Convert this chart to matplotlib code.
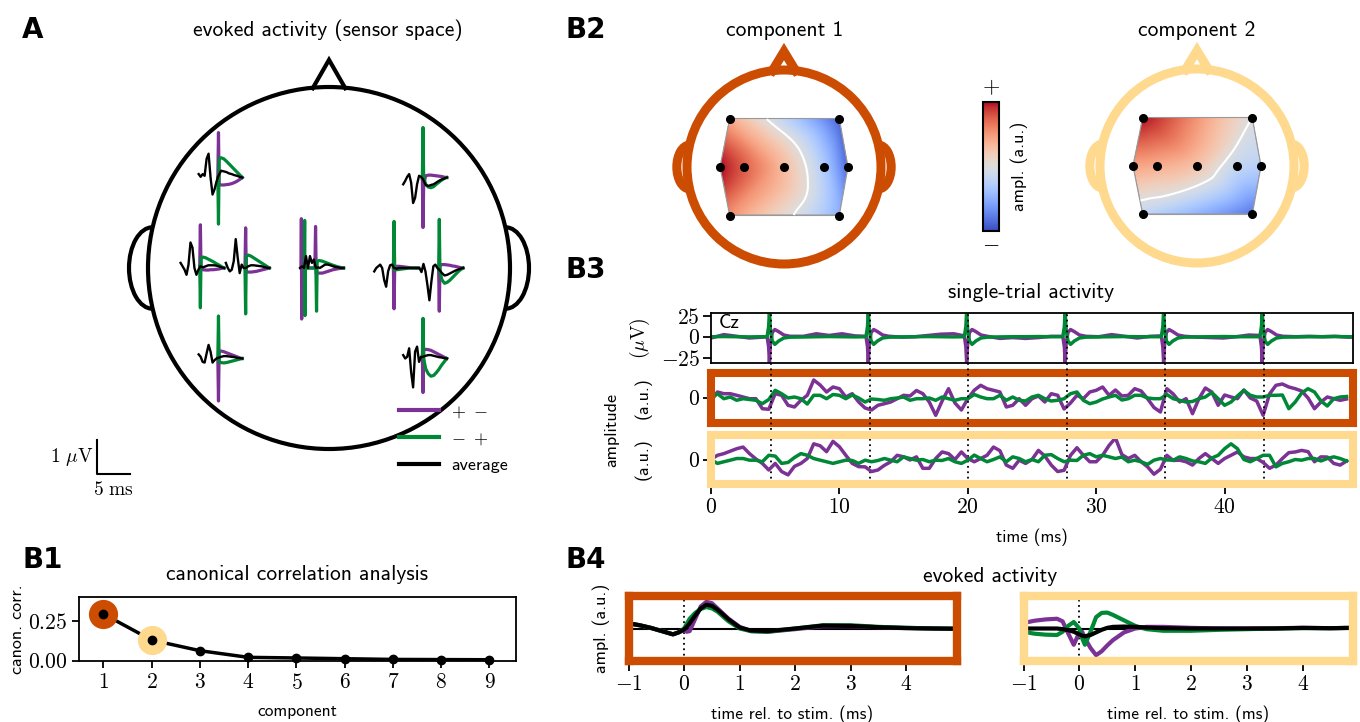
import numpy as np
import matplotlib
matplotlib.use("Agg")
import matplotlib.pyplot as plt
import matplotlib.tri as mtri
from matplotlib.patches import Circle, Arc, Polygon
from matplotlib.lines import Line2D
from matplotlib.cm import ScalarMappable
from matplotlib.colors import Normalize
from matplotlib import transforms

plt.rcParams["font.family"] = ["cmss10", "DejaVu Sans"]
plt.rcParams["mathtext.fontset"] = "cm"
plt.rcParams["axes.unicode_minus"] = False
plt.rcParams["axes.linewidth"] = 1.3

PURPLE = "#7b3294"
GREEN = "#008837"
ORANGE = "#cc4c02"
YELLOW = "#fed98e"
TITLE_FS = 15.5
TICK_FS = 15.5
LABEL_FS = 13

# sensor layout (head radius = 1)
SENSORS = ["TL", "TR", "ML2", "ML1", "Cz", "MR1", "MR2", "BL", "BR"]
SENSOR_X = [-0.56, 0.57, -0.66, -0.41, 0.0, 0.41, 0.66, -0.56, 0.57]
SENSOR_Y = [0.50, 0.50, 0.0, 0.0, 0.0, 0.0, 0.0, -0.50, -0.50]

# A: evoked activity per sensor (uV), average
T_AVG = [-3.0, -2.7, -2.4, -2.1, -1.8, -1.5, -1.2, -0.9, -0.6, -0.3,
         0.0, 0.4, 0.8, 1.2, 1.6, 2.0, 2.4, 2.8, 3.2, 3.6]
AVG = [
    [0.1, 0.02, 0.1, 0.05, 0.55, 0.7, 0.0, -0.5, -0.35, -0.12, 0.05, 0.2, 0.18, 0.16, 0.12, 0.1, 0.07, 0.05, 0.02, 0.0],
    [-0.2, -0.1, 0.02, 0.1, -0.15, -0.75, -0.6, -0.2, 0.05, 0.02, -0.05, -0.22, -0.25, -0.22, -0.2, -0.15, -0.1, -0.06, -0.03, 0.0],
    [0.15, 0.05, -0.05, -0.2, 0.1, 0.75, 0.6, 0.0, -0.2, -0.05, 0.05, 0.02, 0.05, 0.08, 0.08, 0.08, 0.07, 0.05, 0.02, 0.0],
    [0.15, 0.0, -0.1, -0.05, 0.2, 0.85, 0.3, -0.15, 0.1, 0.0, 0.0, 0.05, 0.08, 0.08, 0.07, 0.06, 0.05, 0.03, 0.01, 0.0],
    [0.0, 0.05, 0.0, 0.35, 0.0, 0.35, 0.15, 0.25, 0.0, 0.02, 0.0, 0.05, 0.1, 0.1, 0.08, 0.05, 0.03, 0.02, 0.0, 0.0],
    [-0.1, 0.0, 0.05, 0.1, 0.0, -0.35, -0.55, -0.1, 0.08, 0.1, 0.0, -0.02, 0.0, 0.0, 0.0, 0.0, 0.0, 0.0, 0.0, 0.0],
    [0.0, -0.12, 0.12, -0.1, -0.5, -0.95, -0.4, 0.05, 0.1, 0.0, -0.05, -0.15, -0.22, -0.2, -0.16, -0.12, -0.08, -0.05, -0.02, 0.0],
    [0.12, 0.05, -0.1, -0.12, 0.15, 0.4, 0.2, -0.12, -0.05, 0.0, 0.02, 0.05, 0.07, 0.07, 0.06, 0.05, 0.04, 0.02, 0.01, 0.0],
    [0.1, 0.0, 0.05, 0.3, -0.4, -0.85, 0.2, 0.35, -0.1, 0.05, 0.05, 0.08, 0.1, 0.1, 0.08, 0.06, 0.04, 0.03, 0.01, 0.0],
]
# A: "+ -" and "- +" trials around the stimulus
T_STIM = [-0.1, 0.0, 0.1, 0.4, 0.8, 1.2, 1.6, 2.0, 2.4, 2.8, 3.2, 3.6]
CZ_T_PM = [-2.85, -2.8, -2.75, -2.7, -0.75, -0.65, -0.55, -0.2, 0.4, 1.2, 2.0, 2.8, 3.6]
CZ_T_MP = [-2.35, -2.3, -2.25, -2.2, -0.6, -0.5, -0.4, -0.1, 0.4, 1.2, 2.0, 2.8, 3.6]
PLUS_MINUS = [
    [0.0, 1.32, -0.2, -0.22, -0.22, -0.21, -0.2, -0.18, -0.15, -0.11, -0.06, 0.0],
    [-0.03, -1.47, -0.2, 0.05, 0.07, 0.07, 0.06, 0.05, 0.04, 0.03, 0.01, 0.0],
    [0.05, 1.27, -0.05, -0.05, -0.06, -0.06, -0.05, -0.05, -0.04, -0.03, -0.01, 0.0],
    [0.0, 1.18, -0.12, -0.12, -0.12, -0.11, -0.1, -0.08, -0.06, -0.04, -0.02, 0.0],
    [0.0, 1.45, -1.5, 0.0, 0.0, 1.22, -0.15, -0.15, -0.15, -0.1, -0.05, -0.02, 0.0],
    [0.0, -1.2, 0.0, 0.05, 0.05, 0.04, 0.03, 0.02, 0.01, 0.0, 0.0, 0.0],
    [-0.05, -1.27, 0.1, 0.1, 0.1, 0.09, 0.08, 0.06, 0.05, 0.03, 0.01, 0.0],
    [0.02, -1.25, 0.2, 0.22, 0.2, 0.17, 0.14, 0.11, 0.08, 0.05, 0.02, 0.0],
    [0.05, -1.0, 0.25, 0.27, 0.26, 0.24, 0.2, 0.16, 0.12, 0.08, 0.04, 0.0],
]
MINUS_PLUS = [
    [0.0, -1.37, 0.55, 0.58, 0.55, 0.48, 0.4, 0.32, 0.24, 0.16, 0.08, 0.0],
    [-0.03, 1.47, 0.0, -0.2, -0.28, -0.3, -0.27, -0.2, -0.14, -0.08, -0.03, 0.0],
    [0.05, -1.17, 0.3, 0.32, 0.3, 0.26, 0.22, 0.18, 0.13, 0.09, 0.04, 0.0],
    [0.0, -1.35, 0.35, 0.38, 0.35, 0.3, 0.25, 0.2, 0.15, 0.1, 0.05, 0.0],
    [0.0, 1.4, -1.4, 0.0, 0.0, -1.27, 0.2, 0.22, 0.2, 0.14, 0.08, 0.03, 0.0],
    [0.0, 1.37, -0.05, -0.05, -0.04, -0.03, -0.02, -0.01, 0.0, 0.0, 0.0, 0.0],
    [-0.05, 1.43, -0.1, -0.35, -0.45, -0.42, -0.36, -0.28, -0.2, -0.12, -0.05, 0.0],
    [0.02, 1.25, -0.1, -0.12, -0.13, -0.12, -0.1, -0.08, -0.06, -0.04, -0.02, 0.0],
    [0.05, 1.18, 0.0, -0.3, -0.45, -0.52, -0.5, -0.42, -0.32, -0.2, -0.1, 0.0],
]

# B1: canonical correlations
COMPONENTS = [1, 2, 3, 4, 5, 6, 7, 8, 9]
CANON_CORR = [0.292, 0.129, 0.0625, 0.021, 0.017, 0.0125, 0.008, 0.007, 0.006]

# B2: spatial patterns at the sensors
TOPO_1 = [0.4, -0.9, 1.0, 0.75, 0.3, -0.3, -0.85, 0.55, -0.5]
TOPO_2 = [1.0, 0.0, 0.45, 0.4, 0.25, -0.15, -0.25, -0.2, -0.8]

# B3: single-trial activity
STIM_TIMES = [4.67, 12.35, 20.02, 27.69, 35.36, 43.04]
CZ_T = [0.0, 1.0, 2.0, 3.0, 4.0,
        4.37, 4.49, 4.55, 4.63, 4.77, 4.97, 5.27, 5.67, 6.17,
        7.2, 8.2, 9.2, 10.2, 11.2,
        12.07, 12.19, 12.25, 12.33, 12.47, 12.67, 12.97, 13.37, 13.87,
        14.9, 15.9, 16.9, 17.9, 18.9,
        19.73, 19.85, 19.91, 19.99, 20.13, 20.33, 20.63, 21.03, 21.53,
        22.5, 23.5, 24.5, 25.5, 26.5,
        27.4, 27.52, 27.58, 27.66, 27.8, 28.0, 28.3, 28.7, 29.2,
        30.2, 31.2, 32.2, 33.2, 34.2,
        35.07, 35.19, 35.25, 35.33, 35.47, 35.67, 35.97, 36.37, 36.87,
        37.9, 38.9, 39.9, 40.9, 41.9,
        42.75, 42.87, 42.93, 43.01, 43.15, 43.35, 43.65, 44.05, 44.55,
        45.6, 46.6, 47.6, 48.6, 49.6, 50.0]
CZ_PM = [-1.5, 2.5, 0.5, -1.5, -0.5,
         0.0, -12, -30, -8, 5, 8.5, 6, 2, 0.5,
         0.5, 3.5, 1.5, 3.5, 1.0,
         0.5, -12, -30, -8, 5, 8.5, 6, 2, 0.5,
         -0.5, 0.0, 1.5, 3.0, 3.5,
         1.0, -12, -30, -8, 5, 8.5, 6, 2, 0.5,
         -2.0, -1.0, -2.0, -1.0, 0.5,
         0.5, -12, -30, -8, 5, 8.5, 6, 2, 0.5,
         0.0, 2.5, 0.5, -1.5, 0.5,
         1.0, -12, -30, -8, 5, 8.5, 6, 2, 0.5,
         -0.5, -1.0, -1.5, 0.0, 2.0,
         1.5, -12, -30, -8, 5, 8.5, 6, 2, 0.5,
         0.0, 0.5, 0.0, 0.5, -0.5, -0.5]
CZ_MP = [0.0, 0.2, 0.0, -0.2, 0.0,
         0.0, 12, 30, 8, -5, -9, -5, -1.5, -0.5,
         -0.3, 0.0, 0.2, 0.0, -0.2,
         0.0, 12, 30, 8, -5, -9, -5, -1.5, -0.5,
         -0.2, 0.0, 0.2, 0.0, -0.2,
         0.0, 12, 30, 8, -5, -9, -5, -1.5, -0.5,
         -0.2, 0.0, 0.0, 0.2, 0.0,
         0.0, 12, 30, 8, -5, -9, -5, -1.5, -0.5,
         -0.2, 0.0, 0.2, 0.0, 0.0,
         0.0, 12, 30, 8, -5, -9, -5, -1.5, -0.5,
         -0.2, 0.0, 0.2, 0.0, 0.0,
         0.0, 12, 30, 8, -5, -9, -5, -1.5, -0.5,
         -0.2, 0.0, 0.0, 0.2, 0.0, 0.0]
T_TRIAL = np.arange(0, 50, 0.5)
COMP1_PM = [-0.3, 0.6, 0.43, 0.43, 0.27, 0.1, -0.07, -0.07, -1.07, -1.13,
            0.43, 0.27, -0.73, -0.9, -0.23, 0.27, 1.8, 1.3, 0.6, 1.1,
            0.93, 0.1, 0.43, -0.4, -1.0, -1.2, -0.73, -0.57, -0.4, -0.07,
            0.27, 0.2, 0.75, 0.43, -0.4, -1.73, -0.3, 0.93, -0.5, -1.2,
            -0.07, 0.77, 1.27, 0.93, 0.77, 0.6, -0.9, -0.73, -0.07, -0.73,
            -0.07, 0.2, -0.4, 0.43, 0.27, -1.1, -0.5, 0.27, -0.07, 0.6,
            0.77, 1.1, 0.27, 0.8, 0.2, 0.27, 0.93, 0.7, -0.07, -0.95,
            -1.4, 0.93, 0.4, -0.4, -0.07, -1.57, -0.07, 1.0, 0.6, -0.73,
            0.3, 0.1, -0.07, 0.8, 0.0, -0.3, -1.73, 0.4, 1.27, 1.4,
            1.1, 0.93, 0.7, 0.0, -1.07, -0.4, 0.1, -0.07, -0.23, -0.1]
COMP1_MP = [0.0, 0.43, -0.07, 0.1, -0.23, -0.07, -0.15, -0.23, -0.57, -0.15,
            0.77, 0.43, 0.0, 0.1, -0.07, -0.6, 0.27, 0.27, -0.07, 0.35,
            0.27, -0.07, 0.3, 0.0, -0.4, -0.1, -0.15, -0.23, -0.07, 0.0,
            0.1, -0.23, -0.07, -0.07, 0.0, -0.23, 0.1, -0.07, -0.23, -0.07,
            -0.07, 0.35, 0.1, -0.07, -0.07, 0.27, -0.23, 0.1, -0.23, -0.3,
            0.1, 0.27, -0.07, -0.3, -0.23, -0.07, 0.43, 0.6, -0.23, -0.57,
            -0.4, -0.1, 0.1, 0.27, -0.2, -0.07, 0.27, 0.27, 0.0, -0.07,
            -0.07, 0.35, -0.07, -0.23, -0.4, -0.35, -0.07, 0.1, 0.55, -0.07,
            -0.73, -0.4, 0.2, 0.77, 0.27, 0.1, 0.1, 0.27, 0.27, 0.3,
            -1.07, -0.4, 0.5, 0.93, 0.6, -0.3, -0.8, -0.07, 0.1, 0.15]
COMP2_PM = [0.0, 0.43, 0.6, 0.85, 1.1, 1.27, 0.6, 0.05, -0.4, -1.07,
            -0.4, -1.23, -1.57, -0.7, -0.4, 0.1, 1.6, 1.4, 0.8, 1.85,
            1.3, 0.43, -0.4, -0.73, -0.75, -1.23, -1.07, -0.6, -0.23, 0.43,
            0.27, -0.05, 0.27, -0.9, -0.9, 0.1, 0.77, 0.6, 0.0, 0.77,
            0.1, -0.23, 0.1, 0.43, 1.27, 0.9, -0.57, -0.9, -0.07, -0.4,
            0.0, 0.93, 0.35, -0.57, -1.23, -1.1, 0.43, 1.2, 0.43, -0.23,
            -0.23, 0.43, 1.43, 2.2, 0.5, 0.1, 0.43, -0.23, -0.75, -1.5,
            -1.0, 0.43, -0.1, -0.07, -0.23, -0.57, 0.1, 0.6, 0.1, -0.4,
            0.1, 0.43, 0.77, 0.27, 0.1, 0.1, -0.3, -0.9, -0.57, 0.1,
            0.7, 0.77, 0.93, 0.8, -0.23, 0.27, 0.25, -0.4, -0.57, -0.15]
COMP2_MP = [0.0, -0.4, -0.23, -0.07, 0.1, 0.1, -0.07, -0.07, -0.23, 0.43,
            0.35, -0.4, -0.3, 0.2, 0.6, 0.43, 0.1, -0.07, -0.23, -0.4,
            -0.23, -0.07, -0.1, -0.4, -0.07, -0.23, -0.1, 0.1, -0.07, -0.23,
            0.27, 0.1, -0.07, 0.0, -0.23, -0.07, -0.1, 0.1, -0.23, -0.4,
            -0.07, 0.45, 0.1, -0.23, 0.0, 0.27, -0.23, 0.27, 0.1, -0.23,
            0.0, -0.23, 0.43, 0.5, 0.1, -0.23, -0.07, -0.1, 0.43, 0.6,
            0.27, 0.43, 0.27, 0.1, 0.25, -0.23, -0.07, -0.23, -0.5, -0.07,
            0.1, -0.05, -0.07, 0.27, 0.1, -0.15, -0.23, -0.4, 0.15, 0.43,
            1.1, 1.6, 1.1, 0.0, -0.23, 0.1, 0.43, 0.43, -0.75, -0.4,
            -0.23, 0.0, -0.07, 0.1, 0.1, -0.15, 0.1, 0.27, 0.1, -0.15]

# B4: evoked component activity
T_EVOKED = [-1.0, -0.8, -0.6, -0.4, -0.3, -0.2, -0.1, 0.0, 0.05, 0.1, 0.2, 0.3, 0.4,
            0.5, 0.6, 0.8, 1.0, 1.2, 1.5, 2.0, 2.5, 3.0, 3.5, 4.0, 4.5, 4.9]
EVK1_AVG = [0.16, 0.1, 0.02, -0.08, -0.13, -0.18, -0.12, -0.03, 0.05, 0.16, 0.4, 0.62, 0.73,
            0.7, 0.58, 0.28, 0.03, -0.06, -0.08, 0.0, 0.09, 0.08, 0.04, 0.01, 0.0, -0.01]
EVK1_PM = [0.16, 0.1, 0.02, -0.08, -0.13, -0.18, -0.12, -0.05, -0.1, -0.08, 0.3, 0.68, 0.82,
           0.78, 0.62, 0.3, 0.05, -0.08, -0.1, -0.02, 0.07, 0.07, 0.04, 0.02, 0.0, -0.01]
EVK1_MP = [0.16, 0.1, 0.02, -0.08, -0.13, -0.18, -0.12, 0.0, 0.15, 0.3, 0.48, 0.6, 0.66,
           0.62, 0.52, 0.22, 0.0, -0.08, -0.1, 0.0, 0.1, 0.1, 0.05, 0.02, 0.0, 0.0]
EVK2_AVG = [0.0, 0.0, 0.0, 0.0, -0.02, -0.05, -0.1, -0.18, -0.22, -0.24, -0.2, -0.12, -0.04,
            0.02, 0.05, 0.06, 0.05, 0.03, 0.01, 0.0, 0.0, 0.0, 0.0, 0.02, 0.01, 0.02]
EVK2_PM = [0.17, 0.24, 0.28, 0.3, 0.22, -0.15, -0.5, -0.12, -0.1, -0.3, -0.6, -0.82, -0.7,
           -0.52, -0.36, -0.12, 0.0, 0.05, 0.05, 0.02, 0.0, 0.0, 0.01, 0.02, 0.01, 0.02]
EVK2_MP = [-0.1, -0.16, -0.19, -0.2, -0.1, 0.08, 0.2, 0.0, -0.3, -0.5, -0.1, 0.35, 0.48,
           0.49, 0.42, 0.25, 0.08, -0.02, -0.07, -0.07, -0.04, -0.02, 0.0, 0.01, 0.01, 0.02]

W, H = 1360, 722
fig = plt.figure(figsize=(W / 100, H / 100), dpi=100)


def px_axes(x0, y0, x1, y1):
    return fig.add_axes([x0 / W, 1 - y1 / H, (x1 - x0) / W, (y1 - y0) / H])


def ftext(x, y, s, **kw):
    fig.text(x / W, 1 - y / H, s, **kw)


def math_labels(vals):
    return [r"$%s$" % (("-%g" % -v) if v < 0 else ("%g" % v)) for v in vals]


def draw_head(ax, color, lw, nose_w=0.1, nose_h=1.14):
    ax.add_patch(Circle((0, 0), 1.0, fill=False, ec=color, lw=lw))
    ax.plot([-nose_w, 0.0, nose_w], [0.993, nose_h, 0.993], color=color, lw=lw,
            solid_joinstyle="miter")
    ax.add_patch(Arc((-0.975, 0), 0.26, 0.45, theta1=90, theta2=270, ec=color, lw=lw))
    ax.add_patch(Arc((0.975, 0), 0.26, 0.45, theta1=-90, theta2=90, ec=color, lw=lw))
    ax.set_xlim(-1.3, 1.3)
    ax.set_ylim(-1.3, 1.3)
    ax.axis("off")


def head_axes(cx, cy, r):
    return px_axes(cx - 1.3 * r, cy - 1.3 * r, cx + 1.3 * r, cy + 1.3 * r)


# ---------- A ----------
rA = 181
axA = head_axes(329, 268, rA)
draw_head(axA, "black", 3.0, nose_w=0.09, nose_h=1.15)
ms_u = 6.6 / rA
uv_u = 34 / rA
pm_times = [CZ_T_PM if s == "Cz" else T_STIM for s in SENSORS]
mp_times = [CZ_T_MP if s == "Cz" else T_STIM for s in SENSORS]
for i, s in enumerate(SENSORS):
    ins = axA.inset_axes([SENSOR_X[i] - 0.16, SENSOR_Y[i] - 1.6 * uv_u, 6.6 * ms_u, 3.2 * uv_u],
                         transform=axA.transData)
    ins.set_xlim(-3.0, 3.6)
    ins.set_ylim(-1.6, 1.6)
    ins.axis("off")
    ins.plot(pm_times[i], PLUS_MINUS[i], color=PURPLE, lw=2.3, clip_on=False)
    ins.plot(mp_times[i], MINUS_PLUS[i], color=GREEN, lw=2.3, clip_on=False)
    ins.plot(T_AVG, AVG[i], color="k", lw=1.7, clip_on=False)

sb = axA.inset_axes([(97 - 329) / rA, (268 - 474) / rA, 6.6 * ms_u, 3.2 * uv_u],
                    transform=axA.transData)
sb.set_xlim(0, 6.6)
sb.set_ylim(0, 3.2)
sb.axis("off")
sb.plot([0, 0, 5], [1, 0, 0], color="k", lw=1.5, clip_on=False)
sb.text(-0.6, 0.5, r"$1\ \mu\mathrm{V}$", ha="right", va="center", fontsize=14)
sb.text(2.5, -0.2, r"$5\ \mathrm{ms}$", ha="center", va="top", fontsize=14)

handles = [Line2D([], [], color=PURPLE, lw=3), Line2D([], [], color=GREEN, lw=3),
           Line2D([], [], color="k", lw=3)]
fig.legend(handles, [r"$+\ -$", r"$-\ +$", "average"], loc="upper left",
           bbox_to_anchor=(399 / W, 1 - 404 / H), frameon=False, fontsize=13,
           handlelength=2.2, handletextpad=0.7, labelspacing=0.6,
           borderpad=0, borderaxespad=0)

ftext(328, 30, "evoked activity (sensor space)", ha="center", va="center", fontsize=TITLE_FS)


# ---------- B2 ----------
def topomap(ax, values, color):
    tri = mtri.Triangulation(SENSOR_X, SENSOR_Y)
    interp = mtri.CubicTriInterpolator(tri, values, kind="geom")
    gx, gy = np.meshgrid(np.linspace(-0.7, 0.7, 240), np.linspace(-0.55, 0.55, 200))
    gz = interp(gx, gy)
    vmax = np.max(np.abs(values))
    ax.imshow(gz, extent=(-0.7, 0.7, -0.55, 0.55), origin="lower", cmap="coolwarm",
              vmin=-vmax, vmax=vmax, interpolation="bilinear")
    ax.contour(gx, gy, gz, levels=[0], colors="white", linewidths=1.5)
    hull = [0, 1, 6, 8, 7, 2]
    ax.add_patch(Polygon([(SENSOR_X[j], SENSOR_Y[j]) for j in hull], closed=True,
                         fill=False, ec="0.6", lw=0.8))
    ax.plot(SENSOR_X, SENSOR_Y, "o", color="k", ms=5.5)
    draw_head(ax, color, 6.5, nose_w=0.12, nose_h=1.19)


ax_t1 = head_axes(784, 167, 97)
topomap(ax_t1, TOPO_1, ORANGE)
ax_t2 = head_axes(1197, 166, 97)
topomap(ax_t2, TOPO_2, YELLOW)
ftext(785, 30, "component 1", ha="center", va="center", fontsize=TITLE_FS)
ftext(1197, 30, "component 2", ha="center", va="center", fontsize=TITLE_FS)

cax = px_axes(983, 102, 999, 231)
cb = fig.colorbar(ScalarMappable(norm=Normalize(-1, 1), cmap="coolwarm"), cax=cax)
cb.set_ticks([])
cb.outline.set_linewidth(1.5)
cax.set_ylabel("ampl. (a.u.)", fontsize=LABEL_FS, labelpad=8)
cax.yaxis.set_label_position("right")
ftext(991, 87, r"$+$", ha="center", va="center", fontsize=16)
ftext(991, 244, r"$-$", ha="center", va="center", fontsize=16)

# ---------- B3 ----------
ax_cz = px_axes(711, 313, 1353, 363)
ax_c1 = px_axes(711, 373, 1353, 423)
ax_c2 = px_axes(711, 435, 1353, 484)

ax_cz.plot(CZ_T, CZ_PM, color=PURPLE, lw=2.5)
ax_cz.plot(CZ_T, CZ_MP, color=GREEN, lw=2.5)
ax_cz.set_ylim(-31, 28)
ax_cz.set_yticks([-25, 0, 25])
ax_cz.set_yticklabels(math_labels([-25, 0, 25]), fontsize=TICK_FS)
ax_cz.text(0.012, 0.8, "Cz", transform=ax_cz.transAxes, ha="left", va="center", fontsize=14)
ax_cz.set_ylabel(r"$(\mu\mathrm{V})$", fontsize=14)

for ax, pm, mp, col in [(ax_c1, COMP1_PM, COMP1_MP, ORANGE), (ax_c2, COMP2_PM, COMP2_MP, YELLOW)]:
    ax.plot(T_TRIAL, pm, color=PURPLE, lw=2.5)
    ax.plot(T_TRIAL, mp, color=GREEN, lw=2.5)
    ax.set_ylim(-2.5, 2.5)
    ax.set_yticks([0])
    ax.set_yticklabels([r"$0$"], fontsize=TICK_FS)
    for sp in ax.spines.values():
        sp.set_color(col)
        sp.set_linewidth(5.8)
    ax.set_ylabel("(a.u.)", fontsize=LABEL_FS)

for ax in [ax_cz, ax_c1, ax_c2]:
    ax.set_xlim(0, 50)
    ax.tick_params(axis="y", length=6, width=1.3, pad=2)
    ax.yaxis.set_label_coords(-0.092, 0.5)
ax_cz.tick_params(axis="x", bottom=False, labelbottom=False)
ax_c1.tick_params(axis="x", bottom=False, labelbottom=False)
ax_c2.set_xticks([0, 10, 20, 30, 40])
ax_c2.set_xticklabels(math_labels([0, 10, 20, 30, 40]), fontsize=TICK_FS)
ax_c2.tick_params(axis="x", length=7, width=1.3, pad=3)
ax_c2.set_xlabel("time (ms)", fontsize=12.5)
ax_c2.xaxis.set_label_coords(0.5, -0.9)

trans = transforms.blended_transform_factory(ax_c2.transData, fig.transFigure)
for s in STIM_TIMES:
    ax_c2.plot([s, s], [1 - 484 / H, 1 - 313 / H], transform=trans, color="k",
               lw=1.3, ls=(0, (1, 2)), clip_on=False, zorder=1)

ftext(1031, 292, "single-trial activity", ha="center", va="center", fontsize=TITLE_FS)
ftext(612, 430, "amplitude", ha="center", va="center", rotation=90, fontsize=LABEL_FS)

# ---------- B1 ----------
ax_b1 = px_axes(79.3, 596.7, 516, 660.7)
ax_b1.plot(COMPONENTS, CANON_CORR, color="k", lw=2.5, zorder=2)
ax_b1.plot(COMPONENTS[0], CANON_CORR[0], "o", color=ORANGE, ms=20, zorder=3, clip_on=False)
ax_b1.plot(COMPONENTS[1], CANON_CORR[1], "o", color=YELLOW, ms=20, zorder=3, clip_on=False)
ax_b1.plot(COMPONENTS, CANON_CORR, "o", color="k", ms=6, zorder=4, clip_on=False)
ax_b1.set_xlim(0.5, 9.55)
ax_b1.set_ylim(0, 0.4)
ax_b1.set_xticks(COMPONENTS)
ax_b1.set_xticklabels(math_labels(COMPONENTS), fontsize=TICK_FS)
ax_b1.set_yticks([0, 0.25])
ax_b1.set_yticklabels([r"$0.00$", r"$0.25$"], fontsize=TICK_FS)
ax_b1.tick_params(length=5, width=1.3)
ax_b1.set_xlabel("component", fontsize=12.5)
ax_b1.xaxis.set_label_coords(0.5, -0.68)
ax_b1.set_ylabel("canon. corr.", fontsize=LABEL_FS)
ax_b1.yaxis.set_label_coords(-0.125, 0.5)
ftext(297, 575, "canonical correlation analysis", ha="center", va="center", fontsize=TITLE_FS)

# ---------- B4 ----------
ax_e1 = px_axes(628.5, 596, 956.5, 661)
ax_e2 = px_axes(1023.5, 596, 1353, 661)
for ax, avg, pm, mp, col in [(ax_e1, EVK1_AVG, EVK1_PM, EVK1_MP, ORANGE),
                             (ax_e2, EVK2_AVG, EVK2_PM, EVK2_MP, YELLOW)]:
    ax.axhline(0, color="k", lw=1.5, zorder=1)
    ax.axvline(0, color="k", lw=1.3, ls=(0, (1, 2)), zorder=1)
    ax.plot(T_EVOKED, pm, color=PURPLE, lw=3)
    ax.plot(T_EVOKED, mp, color=GREEN, lw=3)
    ax.plot(T_EVOKED, avg, color="k", lw=3)
    ax.set_xlim(-1, 4.9)
    ax.set_ylim(-1, 1)
    ax.set_yticks([])
    ax.set_xticks([-1, 0, 1, 2, 3, 4])
    ax.set_xticklabels(math_labels([-1, 0, 1, 2, 3, 4]), fontsize=TICK_FS)
    ax.tick_params(axis="x", length=7, width=1.3, pad=3)
    for sp in ax.spines.values():
        sp.set_color(col)
        sp.set_linewidth(6)
    ax.set_xlabel("time rel. to stim. (ms)", fontsize=12.5)
    ax.xaxis.set_label_coords(0.5, -0.68)
ax_e1.set_ylabel("ampl. (a.u.)", fontsize=LABEL_FS)
ax_e1.yaxis.set_label_coords(-0.055, 0.5)
ftext(990, 577, "evoked activity", ha="center", va="center", fontsize=TITLE_FS)

# ---------- panel letters ----------
for lab, x, y in [("A", 22, 16), ("B2", 566, 16), ("B3", 566, 256), ("B1", 22, 546), ("B4", 566, 546)]:
    ftext(x, y, lab, ha="left", va="top", fontsize=20, fontweight="bold", family="DejaVu Sans")

fig.savefig("out.png", dpi=100)
